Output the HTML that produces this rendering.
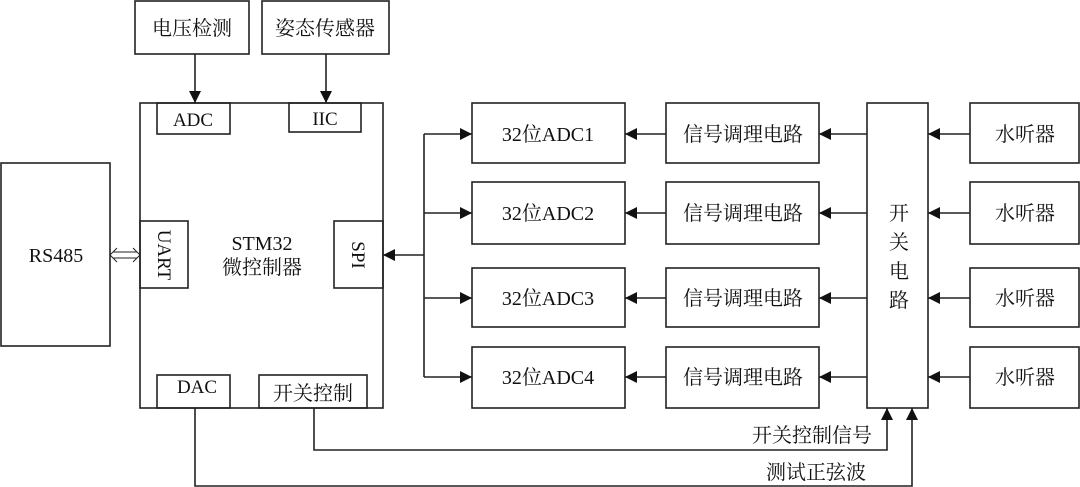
<!DOCTYPE html>
<html><head><meta charset="utf-8"><style>
html,body{margin:0;padding:0;background:#fff;}
svg{display:block;}
text{font-family:"Liberation Serif","Noto Serif CJK SC","Noto Sans CJK SC",serif;fill:#111;}
</style></head><body>
<svg width="1080" height="487" viewBox="0 0 1080 487" xmlns="http://www.w3.org/2000/svg">
<defs>
<marker id="a" viewBox="0 0 10 10" refX="10" refY="5" markerWidth="14" markerHeight="12" markerUnits="userSpaceOnUse" orient="auto"><path d="M0,0 L10,5 L0,10 z" fill="#111"/></marker>
</defs>
<g fill="none" stroke="#222" stroke-width="1.6">
<rect x="135" y="1" width="114" height="53" fill="#fff"/>
<rect x="262" y="1" width="127" height="53" fill="#fff"/>
<rect x="140" y="103" width="243" height="305"/>
<rect x="157" y="103" width="73" height="31"/>
<rect x="289" y="103" width="72" height="29"/>
<rect x="140" y="221" width="48" height="67"/>
<rect x="334" y="221" width="49" height="67"/>
<rect x="157" y="375" width="73" height="33"/>
<rect x="259" y="375" width="108" height="33"/>
<rect x="1" y="163" width="109" height="183"/>
<rect x="472" y="103" width="153" height="60"/>
<rect x="472" y="182" width="153" height="62"/>
<rect x="472" y="268" width="153" height="59"/>
<rect x="472" y="347" width="153" height="61"/>
<rect x="666" y="103" width="153" height="60"/>
<rect x="666" y="182" width="153" height="62"/>
<rect x="666" y="268" width="153" height="59"/>
<rect x="666" y="347" width="153" height="61"/>
<rect x="867" y="103" width="61" height="305"/>
<rect x="970" y="103" width="109" height="60"/>
<rect x="970" y="182" width="109" height="62"/>
<rect x="970" y="268" width="109" height="59"/>
<rect x="970" y="347" width="109" height="61"/>
<line x1="195" y1="54" x2="195" y2="103" marker-end="url(#a)"/>
<line x1="326" y1="54" x2="326" y2="103" marker-end="url(#a)"/>
<line x1="424" y1="134" x2="424" y2="377"/>
<line x1="424" y1="255" x2="383" y2="255" marker-end="url(#a)"/>
<line x1="424" y1="134" x2="472" y2="134" marker-end="url(#a)"/>
<line x1="424" y1="213" x2="472" y2="213" marker-end="url(#a)"/>
<line x1="424" y1="298" x2="472" y2="298" marker-end="url(#a)"/>
<line x1="424" y1="377" x2="472" y2="377" marker-end="url(#a)"/>
<line x1="666" y1="134" x2="625" y2="134" marker-end="url(#a)"/>
<line x1="666" y1="213" x2="625" y2="213" marker-end="url(#a)"/>
<line x1="666" y1="298" x2="625" y2="298" marker-end="url(#a)"/>
<line x1="666" y1="377" x2="625" y2="377" marker-end="url(#a)"/>
<line x1="867" y1="134" x2="819" y2="134" marker-end="url(#a)"/>
<line x1="867" y1="213" x2="819" y2="213" marker-end="url(#a)"/>
<line x1="867" y1="298" x2="819" y2="298" marker-end="url(#a)"/>
<line x1="867" y1="377" x2="819" y2="377" marker-end="url(#a)"/>
<line x1="970" y1="134" x2="928" y2="134" marker-end="url(#a)"/>
<line x1="970" y1="213" x2="928" y2="213" marker-end="url(#a)"/>
<line x1="970" y1="298" x2="928" y2="298" marker-end="url(#a)"/>
<line x1="970" y1="377" x2="928" y2="377" marker-end="url(#a)"/>
<polyline points="314,408 314,450 887,450 887,408" marker-end="url(#a)"/>
<polyline points="195,408 195,486 912,486 912,408" marker-end="url(#a)"/>
<line x1="113" y1="252" x2="137" y2="252" stroke-width="1"/>
<line x1="113" y1="258" x2="137" y2="258" stroke-width="1"/>
<path d="M117,248 L110,255 L117,262 M133,248 L140,255 L133,262" stroke-width="1"/>
</g>
<g font-size="20" text-anchor="middle">
<text x="192" y="35">电压检测</text>
<text x="325" y="35">姿态传感器</text>
<text x="193" y="126" font-size="19">ADC</text>
<text x="325" y="125" font-size="19">IIC</text>
<text x="197" y="393" font-size="19">DAC</text>
<text x="313" y="400">开关控制</text>
<text x="56" y="262">RS485</text>
<text x="262" y="250">STM32</text>
<text x="262" y="274">微控制器</text>
<text transform="translate(158,255) rotate(90)" font-size="19">UART</text>
<text transform="translate(352,255) rotate(90)" font-size="19">SPI</text>
<text x="548" y="141">32位ADC1</text>
<text x="548" y="220">32位ADC2</text>
<text x="548" y="305">32位ADC3</text>
<text x="548" y="384">32位ADC4</text>
<text x="743" y="141">信号调理电路</text>
<text x="743" y="220">信号调理电路</text>
<text x="743" y="305">信号调理电路</text>
<text x="743" y="384">信号调理电路</text>
<text x="1025" y="141">水听器</text>
<text x="1025" y="220">水听器</text>
<text x="1025" y="305">水听器</text>
<text x="1025" y="384">水听器</text>
<text x="899" y="220">开</text>
<text x="899" y="249">关</text>
<text x="899" y="278">电</text>
<text x="899" y="307">路</text>
<text x="812" y="442">开关控制信号</text>
<text x="816" y="479">测试正弦波</text>
</g>
</svg>
</body></html>
